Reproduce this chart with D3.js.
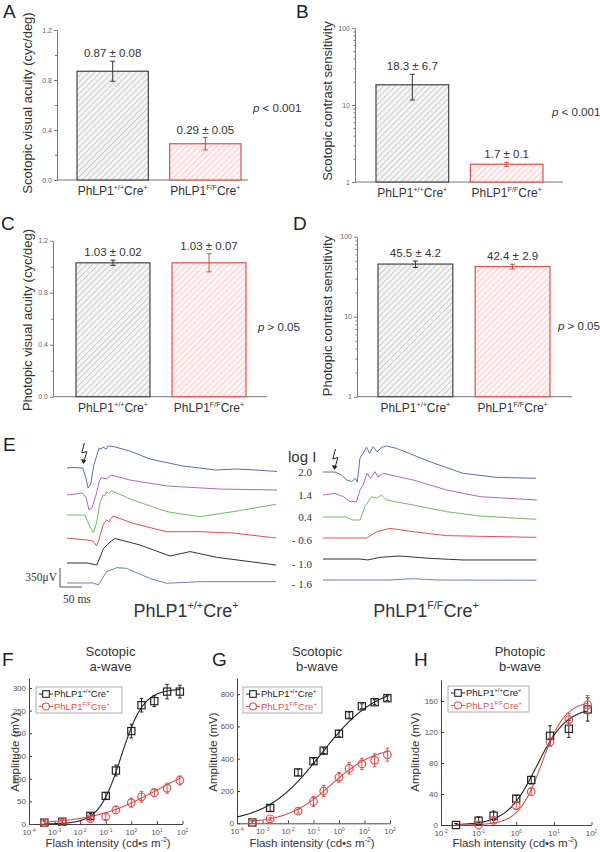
<!DOCTYPE html>
<html><head><meta charset="utf-8">
<script src="https://cdnjs.cloudflare.com/ajax/libs/d3/7.8.5/d3.min.js"></script>
<style>
body{margin:0;background:#fff}
svg{display:block}
text{font-family:Arial,"Liberation Sans",Helvetica,sans-serif}
.serif{font-family:"Liberation Serif","Times New Roman",serif}
</style>
</head><body><div id="chart"></div>
<script>
// ---------------- DATA ----------------
const genotypeBase = ["PhLP1", "PhLP1"];
const genotypeSup = ["+/+", "F/F"];
const genotypes = ["WT", "KO"];

const scotopicAcuity = [0.87, 0.29];
const scotopicAcuityErr = [0.08, 0.05];
const scotopicCS = [18.3, 1.7];
const scotopicCSErr = [6.7, 0.1];
const photopicAcuity = [1.03, 1.03];
const photopicAcuityErr = [0.02, 0.07];
const photopicCS = [45.5, 42.4];
const photopicCSErr = [4.2, 2.9];
const pTexts = ["< 0.001", "< 0.001", "> 0.05", "> 0.05"];

const acuityTicks = [0, 0.4, 0.8, 1.2];
const acuityMinor = [0.2, 0.6, 1.0];
const csTicks = [1, 10, 100];
const csMinor = [2,3,4,5,6,7,8,9,20,30,40,50,60,70,80,90];

// ERG traces: [time ms, amplitude µV]
const logIntensities = ["2.0", "1.4", "0.4", "- 0.6", "- 1.0", "- 1.6"];
const ergWT = [
  [[0,0],[18,9],[36,0],[43,-184],[48,-368],[54,-294],[61,55],[68,239],[73,368],[78,350],[82,386],[89,350],[93,405],[105,396],[143,313],[188,166],[263,37],[338,-37],[384,-18],[429,-37],[477,-64]],
  [[0,0],[20,18],[34,37],[43,-37],[50,-276],[57,-239],[66,0],[73,239],[78,331],[82,313],[89,294],[100,368],[143,276],[227,166],[347,110],[477,92]],
  [[0,0],[18,0],[41,0],[50,-184],[60,-331],[67,-150],[75,221],[82,368],[86,350],[90,427],[95,400],[101,446],[150,276],[227,61],[302,-31],[377,61],[475,197]],
  [[0,0],[45,-37],[60,-60],[67,-147],[72,-50],[82,239],[86,290],[90,331],[95,300],[105,405],[150,270],[226,116],[302,116],[377,92],[475,0]],
  [[0,0],[45,0],[68,-37],[83,269],[100,400],[109,451],[166,331],[234,129],[280,210],[340,105],[475,-37]],
  [[0,0],[60,0],[71,-37],[90,208],[113,282],[135,270],[188,86],[226,-5],[302,24],[377,24],[475,24]]
];
const ergKO = [
  [[0,0],[27,0],[42,-55],[54,-147],[65,-178],[73,-116],[78,-178],[84,252],[91,344],[99,454],[106,344],[114,466],[123,374],[133,454],[144,478],[167,436],[243,190],[318,-24],[393,-98],[484,-116]],
  [[0,0],[27,31],[46,-31],[61,-123],[76,-123],[84,92],[91,184],[100,399],[108,307],[118,429],[125,326],[137,399],[205,276],[281,92],[357,-31],[486,-92]],
  [[0,0],[53,0],[68,-55],[84,-55],[95,189],[110,374],[122,344],[133,405],[144,313],[205,221],[281,98],[357,18],[485,-43]],
  [[0,0],[99,0],[122,116],[152,178],[205,116],[281,43],[485,12]],
  [[0,0],[84,0],[102,-18],[129,31],[174,55],[243,12],[318,-18],[485,-18]],
  [[0,0],[150,0],[205,24],[260,0],[485,-5]]
];
const flashTimeWT = 36, flashTimeKO = 27;
const scaleBarUV = 350, scaleBarMs = 50;

// Dose-response (flash intensity cd·s/m², amplitude)
const scotopicIntensity = [0.0004, 0.002, 0.025, 0.1, 0.25, 1, 2.5, 7.9, 25, 79];
const aWaveWT = [3, 5, 18, 62, 118, 205, 262, 271, 292, 292];
const aWaveWTErr = [4, 4, 5, 7, 12, 15, 15, 12, 16, 14];
const aWaveKO = [3, 5, 12, 16, 31, 47, 60, 69, 79, 96];
const aWaveKOErr = [3, 3, 5, 6, 8, 10, 12, 9, 11, 10];
const bWaveWT = [5, 95, 315, 385, 450, 555, 670, 725, 750, 775];
const bWaveWTErr = [10, 20, 20, 15, 18, 20, 18, 15, 15, 15];
const bWaveKO = [5, 28, 75, 135, 200, 285, 340, 368, 390, 425];
const bWaveKOErr = [8, 10, 12, 30, 35, 30, 35, 35, 40, 40];
const photopicIntensityWT = [0.025, 0.1, 0.25, 1, 2.5, 7.9, 25, 79];
const photopicWT = [0, 5.5, 12, 34, 58, 115, 124, 149];
const photopicWTErr = [2, 5, 6, 4, 5, 13, 11, 15];
const photopicIntensityKO = [0.1, 0.25, 1, 2.5, 7.9, 25, 79];
const photopicKO = [0, 6, 25, 43, 107, 136, 155];
const photopicKOErr = [2, 3, 5, 5, 5, 8, 12];
// Hill fit parameters [Rmax, K, n]
const aWaveFitWT = [298, 0.4, 1.0], aWaveFitKO = [150, 10, 0.35];
const bWaveFitWT = [860, 0.2, 0.4], bWaveFitKO = [480, 0.5, 0.5];
const photFitWT = [152, 3.5, 1.1], photFitKO = [160, 4.8, 1.4];
const scotTicks = [1e-4, 1e-3, 1e-2, 1e-1, 1e0, 1e1, 1e2];
const photTicks = [1e-2, 1e-1, 1e0, 1e1, 1e2];

// ---------------- DRAW ----------------
const W = 600, H = 852;
const svg = d3.select("#chart").append("svg").attr("width", W).attr("height", H);
svg.append("rect").attr("width", W).attr("height", H).attr("fill", "#fff");

const RED = "#de4f4f", BLK = "#333", TXT = "#333";

// hatch patterns
const defs = svg.append("defs");
function hatch(id, bg, fg) {
  const p = defs.append("pattern").attr("id", id).attr("patternUnits", "userSpaceOnUse")
    .attr("width", 4.2).attr("height", 4.2).attr("patternTransform", "rotate(45)");
  p.append("rect").attr("width", 4.2).attr("height", 4.2).attr("fill", bg);
  p.append("line").attr("x1", 0).attr("y1", 0).attr("x2", 0).attr("y2", 4.2)
    .attr("stroke", fg).attr("stroke-width", 1);
}
hatch("hWT", "#f4f4f4", "#a8a8a8");
hatch("hKO", "#fdf3f3", "#f2b3b3");

function rich(t, parts) {
  const fs = parseFloat(t.attr("font-size"));
  let up = false;
  parts.forEach(([s, sup]) => {
    const ts = t.append("tspan").text(s);
    if (sup) {
      ts.attr("font-size", fs * 0.6);
      if (!up) { ts.attr("dy", -fs * 0.42); up = true; }
    } else if (up) { ts.attr("dy", fs * 0.42); up = false; }
  });
  return t;
}
function letter(s, x, y) {
  svg.append("text").attr("x", x).attr("y", y).attr("font-size", 19).attr("fill", "#222").text(s);
}

// ---- Bar panels ----
function barPanel(c) {
  const g = svg.append("g");
  const x = d3.scaleBand().domain(genotypes).range(c.band).paddingInner(0.23).paddingOuter(0);
  const y = c.log ? d3.scaleLog().domain([1, 100]).range(c.yr) : d3.scaleLinear().domain([0, 1.2]).range(c.yr);
  const base = c.log ? 1 : 0;
  const ax = g.append("g").attr("transform", `translate(${c.ax},0)`)
    .call(d3.axisLeft(y).tickValues(c.log ? csTicks : acuityTicks).tickSize(3).tickSizeOuter(0).tickPadding(2)
      .tickFormat(c.log ? d3.format("d") : d3.format(".1f")));
  ax.select(".domain").attr("stroke", "#777");
  ax.selectAll(".tick line").attr("stroke", "#777");
  ax.selectAll(".tick text").attr("font-size", 7).attr("fill", "#666").attr("font-family", "Arial");
  const mn = g.append("g").attr("transform", `translate(${c.ax},0)`)
    .call(d3.axisLeft(y).tickValues(c.log ? csMinor : acuityMinor).tickSize(c.log ? 1.5 : 2).tickSizeOuter(0).tickFormat(""));
  mn.select(".domain").remove();
  mn.selectAll(".tick line").attr("stroke", "#777");
  g.append("line").attr("x1", c.ax).attr("x2", c.axEnd).attr("y1", y(base)).attr("y2", y(base))
    .attr("stroke", "#777").attr("stroke-width", 1);
  c.vals.forEach((v, i) => {
    const col = i === 0 ? "#444" : RED;
    const e = c.errs[i];
    g.append("rect").attr("x", x(genotypes[i])).attr("y", y(v)).attr("width", x.bandwidth())
      .attr("height", y(base) - y(v)).attr("fill", i === 0 ? "url(#hWT)" : "url(#hKO)")
      .attr("stroke", col).attr("stroke-width", 1.2);
    const cx = x(genotypes[i]) + x.bandwidth() / 2;
    const ec = i === 0 ? "#333" : "#d04a4a";
    g.append("line").attr("x1", cx).attr("x2", cx).attr("y1", y(v - e)).attr("y2", y(v + e)).attr("stroke", ec).attr("stroke-width", 1);
    [v - e, v + e].forEach(q => g.append("line").attr("x1", cx - 2.5).attr("x2", cx + 2.5)
      .attr("y1", y(q)).attr("y2", y(q)).attr("stroke", ec).attr("stroke-width", 1));
    g.append("text").attr("x", cx).attr("y", y(v + e) - 4).attr("text-anchor", "middle")
      .attr("font-size", 11.5).attr("fill", TXT).text(`${v} ± ${e}`);
    rich(g.append("text").attr("x", cx).attr("y", y(base) + 15).attr("text-anchor", "middle")
      .attr("font-size", 12).attr("fill", TXT),
      [[genotypeBase[i], 0], [genotypeSup[i], 1], ["Cre", 0], ["+", 1]]);
  });
  g.append("text").attr("transform", `translate(${c.lx},${c.ly}) rotate(-90)`).attr("text-anchor", "middle")
    .attr("font-size", 13).attr("fill", TXT).text(c.label);
  const pt = g.append("text").attr("x", c.px).attr("y", c.py).attr("font-size", 11.5).attr("fill", TXT);
  pt.append("tspan").attr("font-style", "italic").text("p");
  pt.append("tspan").text(" " + c.p);
}

barPanel({ vals: scotopicAcuity, errs: scotopicAcuityErr, log: false, yr: [180, 30], band: [77, 241], ax: 57, axEnd: 248,
  label: "Scotopic visual acuity (cyc/deg)", lx: 31.5, ly: 103, px: 253, py: 112, p: pTexts[0] });
barPanel({ vals: scotopicCS, errs: scotopicCSErr, log: true, yr: [182, 28], band: [376, 543], ax: 355, axEnd: 563,
  label: "Scotopic contrast sensitivity", lx: 331.5, ly: 101, px: 552, py: 116, p: pTexts[1] });
barPanel({ vals: photopicAcuity, errs: photopicAcuityErr, log: false, yr: [396.7, 240.7], band: [76, 246], ax: 53, axEnd: 267,
  label: "Photopic visual acuity (cyc/deg)", lx: 31.5, ly: 320, px: 258, py: 331, p: pTexts[2] });
barPanel({ vals: photopicCS, errs: photopicCSErr, log: true, yr: [396.7, 236.7], band: [378, 550], ax: 357, axEnd: 572,
  label: "Photopic contrast sensitivity", lx: 331.5, ly: 316, px: 558, py: 330, p: pTexts[3] });

letter("A", 3, 18); letter("B", 296, 18); letter("C", 1, 230); letter("D", 293, 230);

// ---- ERG panel E ----
letter("E", 3, 451);
const traceColors = ["#5a6db4", "#b566b8", "#6dbd5c", "#e04e4e", "#333333", "#6a7fc2"];
const baseWT = [468, 495, 515, 538, 563, 583];
const baseKO = [472, 495, 517, 538, 559, 580];
const xL = d3.scaleLinear().domain([0, 500]).range([67, 287]);
const xR = d3.scaleLinear().domain([0, 500]).range([323, 543]);
const yUV = d3.scaleLinear().domain([0, 350]).range([0, -19]);
function traces(data, xs, bases) {
  data.forEach((tr, i) => {
    const line = d3.line().x(d => xs(d[0])).y(d => bases[i] + yUV(d[1]));
    svg.append("path").attr("d", line(tr)).attr("fill", "none").attr("stroke", traceColors[i])
      .attr("stroke-width", 1).attr("stroke-linejoin", "round");
  });
}
traces(ergWT, xL, baseWT);
traces(ergKO, xR, baseKO);
function bolt(x, y) {
  const g = svg.append("g").attr("transform", `translate(${x},${y})`);
  g.append("path").attr("d", "M1,-21 L-1.5,-11 L3.5,-12.5 L0.8,-3").attr("fill", "none").attr("stroke", "#222").attr("stroke-width", 1);
  g.append("path").attr("d", "M0,0 L-2.6,-5 L3,-3.8 Z").attr("fill", "#222");
}
bolt(xL(flashTimeWT) + 0.5, 464);
bolt(xR(flashTimeKO) - 0.5, 470);
// scale bar
const sbx = 60, sby = 587;
svg.append("path").attr("d", `M${sbx},${sby + yUV(scaleBarUV)} V${sby} H${sbx + xL(scaleBarMs) - xL(0)}`)
  .attr("fill", "none").attr("stroke", "#555").attr("stroke-width", 1);
svg.append("text").attr("class", "serif").attr("x", 57).attr("y", 581).attr("text-anchor", "end")
  .attr("font-size", 11.5).attr("fill", TXT).text(scaleBarUV + "μV");
svg.append("text").attr("class", "serif").attr("x", 63).attr("y", 603)
  .attr("font-size", 11.5).attr("fill", TXT).text(scaleBarMs + " ms");
svg.append("text").attr("x", 288).attr("y", 462).attr("font-size", 15).attr("fill", TXT).text("log I");
logIntensities.forEach((s, i) => {
  svg.append("text").attr("class", "serif").attr("x", 312).attr("y", baseKO[i] + 4 + [0, 0, 0, 2, 5, 4][i])
    .attr("text-anchor", "end").attr("font-size", 11).attr("fill", TXT).text(s);
});
rich(svg.append("text").attr("x", 186).attr("y", 617).attr("text-anchor", "middle").attr("font-size", 18).attr("fill", TXT),
  [[genotypeBase[0], 0], [genotypeSup[0], 1], ["Cre", 0], ["+", 1]]);
rich(svg.append("text").attr("x", 426).attr("y", 617).attr("text-anchor", "middle").attr("font-size", 18).attr("fill", TXT),
  [[genotypeBase[1], 0], [genotypeSup[1], 1], ["Cre", 0], ["+", 1]]);

// ---- Dose-response panels ----
function hill(I, p) { const [R, K, n] = p; return R * Math.pow(I, n) / (Math.pow(I, n) + Math.pow(K, n)); }
function drPanel(c) {
  const g = svg.append("g");
  const x = d3.scaleLog().domain(c.xd).range(c.xr);
  const y = d3.scaleLinear().domain(c.yd).range(c.yr);
  const ya = g.append("g").attr("transform", `translate(${c.xr[0]},0)`)
    .call(d3.axisLeft(y).tickValues(c.yt).tickSize(-3).tickSizeOuter(0).tickPadding(3));
  ya.selectAll(".tick text").attr("font-size", 8).attr("fill", "#555").attr("font-family", "Arial");
  const xa = g.append("g").attr("transform", `translate(0,${c.yr[0]})`)
    .call(d3.axisBottom(x).tickValues(c.xt).tickSize(-3).tickSizeOuter(0).tickFormat(""));
  [ya, xa].forEach(a => { a.select(".domain").attr("stroke", "#444"); a.selectAll(".tick line").attr("stroke", "#444"); });
  c.xt.forEach(t => {
    rich(g.append("text").attr("x", x(t)).attr("y", c.yr[0] + 11).attr("text-anchor", "middle")
      .attr("font-size", 8).attr("fill", "#555"), [["10", 0], [String(Math.round(Math.log10(t))), 1]]);
  });
  c.series.forEach(s => {
    const pts = d3.range(s.fitRange[0], s.fitRange[1] + 1e-9, 0.02).map(l => [Math.pow(10, l), hill(Math.pow(10, l), s.fit)]);
    g.append("path").attr("d", d3.line().x(d => x(d[0])).y(d => y(d[1]))(pts))
      .attr("fill", "none").attr("stroke", s.col).attr("stroke-width", 1.1);
  });
  c.series.forEach(s => {
    s.I.forEach((I, i) => {
      const v = s.v[i], e = s.e[i], cx = x(I);
      g.append("line").attr("x1", cx).attr("x2", cx).attr("y1", y(Math.max(0, v - e))).attr("y2", y(v + e)).attr("stroke", s.col).attr("stroke-width", 1);
      [v - e, v + e].forEach(q => { if (q >= 0) g.append("line").attr("x1", cx - 1.8).attr("x2", cx + 1.8).attr("y1", y(q)).attr("y2", y(q)).attr("stroke", s.col).attr("stroke-width", 1); });
      if (s.sq) g.append("rect").attr("x", cx - 3.6).attr("y", y(v) - 3.6).attr("width", 7.2).attr("height", 7.2)
        .attr("fill", "none").attr("stroke", s.col).attr("stroke-width", 1.2);
      else g.append("circle").attr("cx", cx).attr("cy", y(v)).attr("r", 3.8).attr("fill", "none").attr("stroke", s.col).attr("stroke-width", 1.2);
    });
  });
  const L = c.leg;
  g.append("rect").attr("x", L[0]).attr("y", L[1]).attr("width", L[2]).attr("height", 26)
    .attr("fill", "#fff").attr("stroke", "#999").attr("stroke-width", 0.8);
  c.series.forEach((s, i) => {
    const ly = L[1] + 7 + i * 12.5;
    g.append("line").attr("x1", L[0] + 3).attr("x2", L[0] + 17).attr("y1", ly).attr("y2", ly).attr("stroke", s.col).attr("stroke-width", 1);
    if (s.sq) g.append("rect").attr("x", L[0] + 10 - 3.3).attr("y", ly - 3.3).attr("width", 6.6).attr("height", 6.6).attr("fill", "#fff").attr("stroke", s.col).attr("stroke-width", 1.1);
    else g.append("circle").attr("cx", L[0] + 10).attr("cy", ly).attr("r", 3.5).attr("fill", "#fff").attr("stroke", s.col).attr("stroke-width", 1.1);
    rich(g.append("text").attr("x", L[0] + 18).attr("y", ly + 3.4).attr("font-size", 9.5).attr("fill", s.col),
      [[genotypeBase[i], 0], [genotypeSup[i], 1], ["Cre", 0], ["+", 1]]);
  });
  c.title.forEach((t, i) => g.append("text").attr("x", c.tx).attr("y", 656 + i * 14.5).attr("text-anchor", "middle")
    .attr("font-size", 13).attr("fill", TXT).text(t));
  g.append("text").attr("transform", `translate(${c.ylx},752) rotate(-90)`).attr("text-anchor", "middle")
    .attr("font-size", 11.5).attr("fill", TXT).text("Amplitude (mV)");
  rich(g.append("text").attr("x", c.xlx).attr("y", 847).attr("text-anchor", "middle").attr("font-size", 11.5).attr("fill", TXT),
    [["Flash intensity (cd•s m", 0], ["-2", 1], [")", 0]]);
}

drPanel({ xd: [1e-4, 1e2], xr: [29, 182.5], yd: [0, 322], yr: [824, 678], yt: [0, 50, 100, 150, 200, 250, 300], xt: scotTicks,
  leg: [36, 687, 86], title: ["Scotopic", "a-wave"], tx: 110.5, ylx: 19, xlx: 108,
  series: [
    { I: scotopicIntensity, v: aWaveWT, e: aWaveWTErr, fit: aWaveFitWT, fitRange: [-3.4, 1.9], col: "#222", sq: true },
    { I: scotopicIntensity, v: aWaveKO, e: aWaveKOErr, fit: aWaveFitKO, fitRange: [-3.4, 1.9], col: RED, sq: false }
  ] });
drPanel({ xd: [1e-4, 1e2], xr: [237, 390], yd: [0, 900], yr: [823.3, 678], yt: [0, 200, 400, 600, 800], xt: scotTicks,
  leg: [243, 687, 79], title: ["Scotopic", "b-wave"], tx: 317, ylx: 217, xlx: 312,
  series: [
    { I: scotopicIntensity, v: bWaveWT, e: bWaveWTErr, fit: bWaveFitWT, fitRange: [-4, 1.9], col: "#222", sq: true },
    { I: scotopicIntensity, v: bWaveKO, e: bWaveKOErr, fit: bWaveFitKO, fitRange: [-3.4, 1.9], col: RED, sq: false }
  ] });
drPanel({ xd: [1e-2, 1e2], xr: [441, 591.5], yd: [0, 187], yr: [825, 680], yt: [0, 40, 80, 120, 160], xt: photTicks,
  leg: [448, 686, 81], title: ["Photopic", "b-wave"], tx: 520, ylx: 419, xlx: 515,
  series: [
    { I: photopicIntensityWT, v: photopicWT, e: photopicWTErr, fit: photFitWT, fitRange: [-1.6, 1.9], col: "#222", sq: true },
    { I: photopicIntensityKO, v: photopicKO, e: photopicKOErr, fit: photFitKO, fitRange: [-1.6, 1.9], col: RED, sq: false }
  ] });

letter("F", 2, 666); letter("G", 212, 666); letter("H", 414, 666);
</script></body></html>
